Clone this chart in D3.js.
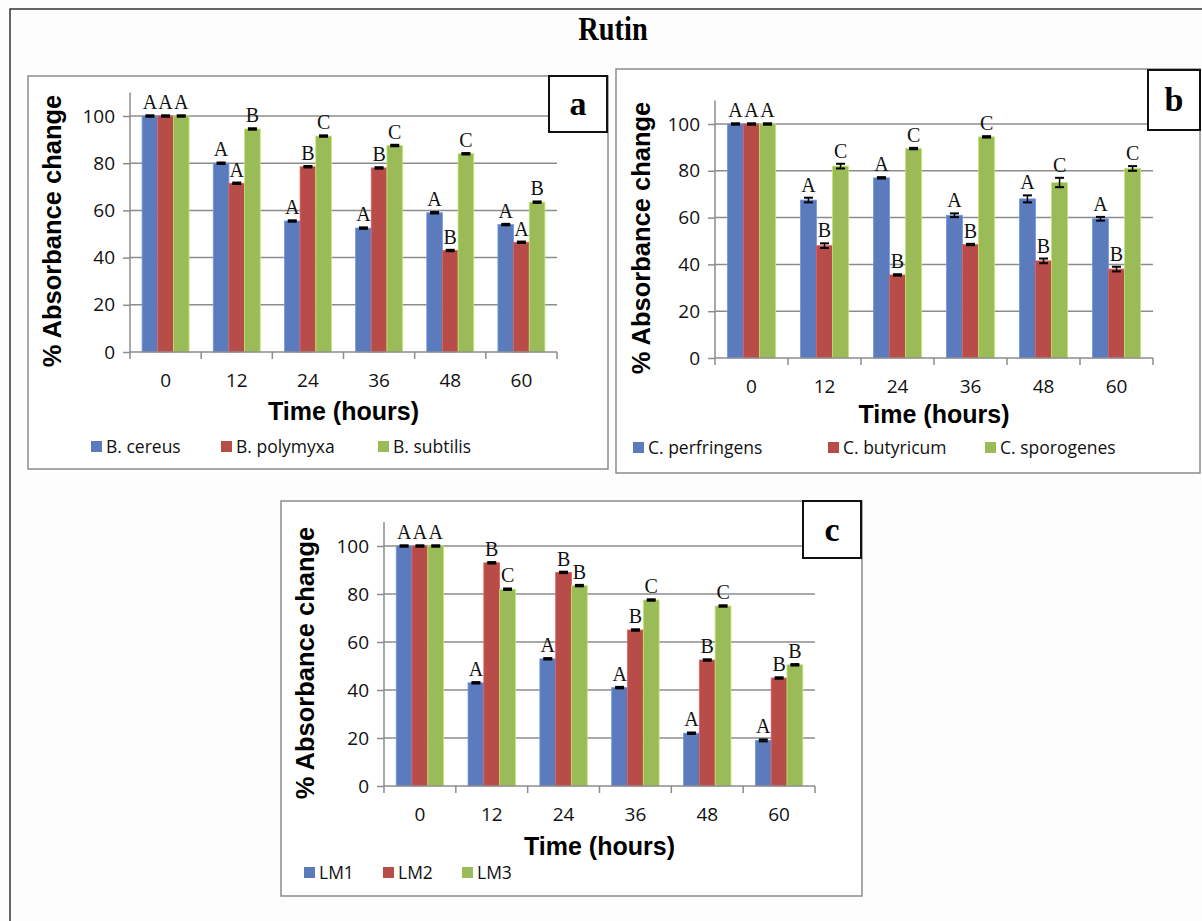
<!DOCTYPE html>
<html>
<head>
<meta charset="utf-8">
<script src="https://cdn.jsdelivr.net/npm/d3@7/dist/d3.min.js"></script>
<style>
  body { margin: 0; background: #fdfdfd; }
  svg { display: block; }
</style>
</head>
<body>
<svg id="chart" width="1202" height="921"></svg>
<script>
// ---- data ----
const hours = ["0", "12", "24", "36", "48", "60"];
const yTicks = [0, 20, 40, 60, 80, 100];

// panel a
const seriesA = ["B. cereus", "B. polymyxa", "B. subtilis"];
const cereus   = [100, 80, 55.5, 52.5, 59, 54];
const polymyxa = [100, 71.5, 78.5, 78, 43, 46.5];
const subtilis = [100, 94.5, 91.5, 87.5, 84, 63.5];
const errA = [[0.3,0.3,0.3,0.3,0.3,0.3],[0.3,0.3,0.3,0.3,0.3,0.3],[0.3,0.3,0.3,0.3,0.3,0.3]];
const lettersA = [["A","A","A"],["A","A","B"],["A","B","C"],["A","B","C"],["A","B","C"],["A","A","B"]];

// panel b
const seriesB = ["C. perfringens", "C. butyricum", "C. sporogenes"];
const perfringens = [100, 67.5, 77, 61, 68, 59.5];
const butyricum   = [100, 48, 35.5, 48.5, 41.5, 38];
const sporogenes  = [100, 82, 89.5, 94.5, 75, 81];
const errB = [[0.3,1,0.3,0.8,1.5,0.8],[0.3,1,0.3,0.3,1,1],[0.3,1,0.3,0.3,2,1]];
const lettersB = [["A","A","A"],["A","B","C"],["A","B","C"],["A","B","C"],["A","B","C"],["A","B","C"]];

// panel c
const seriesC = ["LM1", "LM2", "LM3"];
const lm1 = [100, 43, 53, 41, 22, 19];
const lm2 = [100, 93, 89, 65, 52.5, 45];
const lm3 = [100, 82, 83.5, 77.5, 75, 50.5];
const errC = [[0.3,0.3,0.3,0.3,0.3,0.4],[0.3,0.3,0.3,0.3,0.3,0.3],[0.3,0.3,0.3,0.3,0.3,0.3]];
const lettersC = [["A","A","A"],["A","B","C"],["A","B","B"],["A","B","C"],["A","B","C"],["A","B","B"]];

const colors = ["#5b7bbd", "#b84c49", "#9bbb59"];

// ---- layout ----
const panels = [
  {tag:"a", series:seriesA, values:[cereus, polymyxa, subtilis], err:errA, letters:lettersA,
   box:[28,76,580,393], tagBox:[549,76,58,56], x0:130, x1:557, y0:352, y100:116,
   xTitleY:420, yTitleX:52, legendY:447, legendX:[91,221,378]},
  {tag:"b", series:seriesB, values:[perfringens, butyricum, sporogenes], err:errB, letters:lettersB,
   box:[616,69,584,404], tagBox:[1148,70,52,60], x0:715, x1:1153, y0:358, y100:124,
   xTitleY:423, yTitleX:641, legendY:448, legendX:[633,828,985]},
  {tag:"c", series:seriesC, values:[lm1, lm2, lm3], err:errC, letters:lettersC,
   box:[281,501,581,395], tagBox:[803,501,58,57], x0:384, x1:815, y0:786, y100:546,
   xTitleY:855, yTitleX:305, legendY:873, legendX:[304,383,462]}
];

const svg = d3.select("#chart");

// outer frame
svg.append("path")
  .attr("d", "M10,921 L10,9 L1210,9")
  .attr("fill", "none").attr("stroke", "#333").attr("stroke-width", 1.5);

svg.append("text")
  .attr("transform", "translate(613,40) scale(0.86,1)")
  .attr("text-anchor", "middle")
  .style("font-family", "'Liberation Serif', serif")
  .style("font-weight", "bold")
  .style("font-size", "33px")
  .text("Rutin");

panels.forEach(p => {
  const g = svg.append("g");
  const [bx, by, bw, bh] = p.box;

  g.append("rect")
    .attr("x", bx).attr("y", by).attr("width", bw).attr("height", bh)
    .attr("fill", "#fff").attr("stroke", "#8c8c8c").attr("stroke-width", 1.5);

  const x = d3.scaleBand().domain(hours).range([p.x0, p.x1]);
  const xs = d3.scaleBand().domain(d3.range(3))
               .range([x.bandwidth()*0.17, x.bandwidth()*0.83]);
  const y = d3.scaleLinear().domain([0, 100]).range([p.y0, p.y100]);

  // gridlines
  g.append("g").selectAll("line")
    .data(yTicks.filter(d => d > 0))
    .enter().append("line")
      .attr("x1", p.x0).attr("x2", p.x1)
      .attr("y1", d => y(d)).attr("y2", d => y(d))
      .attr("stroke", "#8c8c8c").attr("stroke-width", 1.5);

  // y axis
  const ya = g.append("g")
    .attr("transform", "translate(" + p.x0 + ",0)")
    .call(d3.axisLeft(y).tickValues(yTicks).tickSize(7).tickPadding(8).tickSizeOuter(0));
  ya.select(".domain").remove();
  ya.append("line")
    .attr("x1", 0).attr("x2", 0).attr("y1", y(110)).attr("y2", y(0))
    .attr("stroke", "#8c8c8c").attr("stroke-width", 1.5);
  ya.selectAll(".tick line").attr("stroke", "#8c8c8c").attr("stroke-width", 1.5);
  ya.selectAll(".tick text")
    .attr("fill", "#111")
    .style("font-family", "'Open Sans', sans-serif").style("font-size", "19px");

  // bars
  const sg = g.append("g");
  p.values.forEach((vals, si) => {
    sg.selectAll(".bar" + si)
      .data(vals)
      .enter().append("rect")
        .attr("x", (d, i) => x(hours[i]) + xs(si))
        .attr("y", d => y(d))
        .attr("width", xs.bandwidth())
        .attr("height", d => y(0) - y(d))
        .attr("fill", colors[si])
        .attr("stroke", d3.color(colors[si]).brighter(0.6))
        .attr("stroke-width", 0.8);
  });

  // error bars + letters
  p.values.forEach((vals, si) => {
    vals.forEach((v, i) => {
      const cx = x(hours[i]) + xs(si) + xs.bandwidth() / 2;
      const e = p.err[si][i];
      const top = y(v + e), bot = y(v - e);
      sg.append("line").attr("x1", cx).attr("x2", cx).attr("y1", top).attr("y2", bot)
        .attr("stroke", "#000").attr("stroke-width", 1.5);
      [top, bot].forEach(yy => sg.append("line")
        .attr("x1", cx - 4.5).attr("x2", cx + 4.5).attr("y1", yy).attr("y2", yy)
        .attr("stroke", "#000").attr("stroke-width", 2));
      sg.append("text")
        .attr("x", cx).attr("y", top - 6)
        .attr("text-anchor", "middle")
        .style("font-family", "'Liberation Serif', serif").style("font-size", "20px")
        .attr("fill", "#111")
        .text(p.letters[i][si]);
    });
  });

  // x axis
  const xa = g.append("g")
    .attr("transform", "translate(0," + p.y0 + ")")
    .call(d3.axisBottom(x).tickSize(0).tickPadding(22));
  xa.select(".domain").remove();
  xa.selectAll(".tick text")
    .attr("fill", "#111")
    .style("font-family", "'Open Sans', sans-serif").style("font-size", "19px");
  xa.append("line").attr("x1", p.x0).attr("x2", p.x1).attr("y1", 0).attr("y2", 0)
    .attr("stroke", "#8c8c8c").attr("stroke-width", 1.5);
  xa.selectAll(".bound")
    .data(d3.range(hours.length + 1))
    .enter().append("line")
      .attr("x1", i => p.x0 + i * x.step()).attr("x2", i => p.x0 + i * x.step())
      .attr("y1", 0).attr("y2", 7)
      .attr("stroke", "#8c8c8c").attr("stroke-width", 1.5);

  // axis titles
  g.append("text")
    .attr("x", (p.x0 + p.x1) / 2).attr("y", p.xTitleY)
    .attr("text-anchor", "middle")
    .style("font-family", "'Liberation Sans', Arial, sans-serif")
    .style("font-weight", "bold").style("font-size", "25px")
    .text("Time (hours)");
  g.append("text")
    .attr("transform", "translate(" + (p.yTitleX + 9) + "," + (y(50) - 3) + ") rotate(-90)")
    .attr("text-anchor", "middle")
    .style("font-family", "'Liberation Sans', Arial, sans-serif")
    .style("font-weight", "bold").style("font-size", "25.5px")
    .text("% Absorbance change");

  // legend
  p.series.forEach((s, si) => {
    g.append("rect")
      .attr("x", p.legendX[si]).attr("y", p.legendY - 6)
      .attr("width", 11).attr("height", 11)
      .attr("fill", colors[si]);
    g.append("text")
      .attr("x", p.legendX[si] + 15).attr("y", p.legendY + 6)
      .style("font-family", "'Open Sans', sans-serif").style("font-size", "17.5px")
      .attr("fill", "#111")
      .text(s);
  });

  // panel tag
  const [tx, ty, tw, th] = p.tagBox;
  g.append("rect")
    .attr("x", tx).attr("y", ty).attr("width", tw).attr("height", th)
    .attr("fill", "#fff").attr("stroke", "#111").attr("stroke-width", 2);
  g.append("text")
    .attr("x", tx + tw / 2).attr("y", ty + th / 2 + 11)
    .attr("text-anchor", "middle")
    .style("font-family", "'Liberation Serif', serif")
    .style("font-weight", "bold").style("font-size", "34px")
    .text(p.tag);
});
</script>
</body>
</html>
